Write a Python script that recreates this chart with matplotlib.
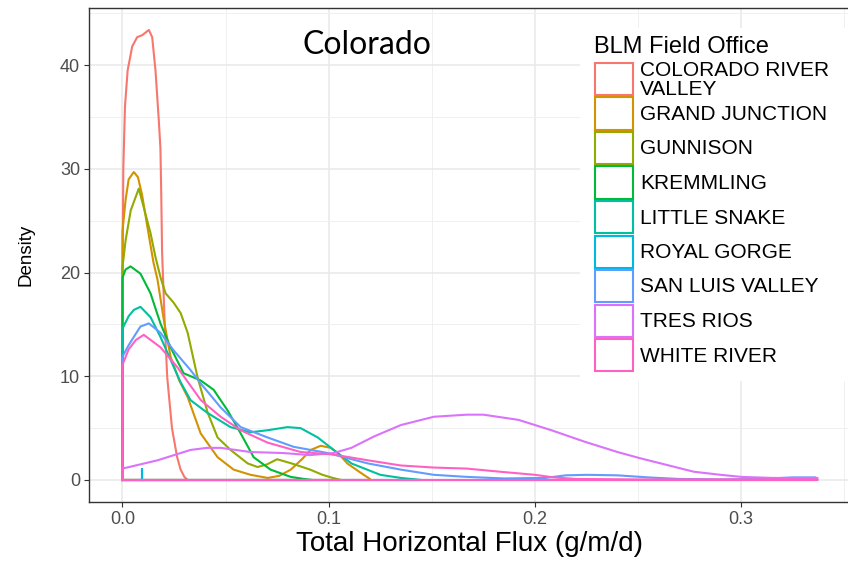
import matplotlib
matplotlib.use("Agg")
import matplotlib.pyplot as plt
from matplotlib.patches import Rectangle
from matplotlib.ticker import MultipleLocator

# Data ------------------------------------------------------------
offices = ["COLORADO RIVER\nVALLEY", "GRAND JUNCTION", "GUNNISON", "KREMMLING",
           "LITTLE SNAKE", "ROYAL GORGE", "SAN LUIS VALLEY", "TRES RIOS", "WHITE RIVER"]
colors = ["#F8766D", "#D39200", "#93AA00", "#00BA38", "#00C19F",
          "#00B9E3", "#619CFF", "#DB72FB", "#FF61C3"]

# density curves (flux, density)
crv_x = [0.0, 0.0004, 0.0012, 0.0025, 0.0047, 0.0071, 0.0096, 0.0128, 0.0144, 0.016,
         0.0176, 0.0184, 0.0188, 0.0192, 0.0205, 0.0217, 0.024, 0.0265, 0.0282, 0.030, 0.0316]
crv_y = [18.0, 30.0, 36.0, 39.5, 41.8, 42.7, 42.9, 43.4, 42.7, 39.5,
         34.7, 32.0, 27.5, 22.0, 15.0, 9.9, 5.0, 2.2, 1.0, 0.3, 0.0]

gj_x = [0.0, 0.0015, 0.003, 0.0055, 0.0075, 0.0095, 0.012, 0.015, 0.017, 0.020, 0.0233,
        0.0275, 0.0316, 0.0379, 0.0461, 0.0539, 0.0621, 0.0704, 0.076, 0.0816, 0.087,
        0.0913, 0.0961, 0.101, 0.105, 0.109, 0.1155, 0.120]
gj_y = [24.0, 27.0, 29.0, 29.7, 29.2, 27.5, 24.5, 21.0, 19.3, 15.5, 11.9,
        9.6, 8.0, 4.5, 2.2, 1.0, 0.5, 0.2, 0.4, 1.0, 2.0,
        2.9, 3.3, 3.1, 2.5, 1.6, 0.7, 0.1]

gun_x = [0.0, 0.0015, 0.004, 0.0079, 0.0103, 0.0136, 0.016, 0.0185, 0.0209, 0.0248,
         0.0282, 0.0316, 0.0345, 0.0364, 0.0413, 0.0461, 0.0524, 0.0607, 0.0655, 0.070,
         0.075, 0.082, 0.091, 0.097, 0.102, 0.106]
gun_y = [20.5, 23.1, 26.0, 28.1, 26.3, 23.8, 21.5, 19.5, 18.0, 17.1,
         16.1, 14.2, 11.6, 9.9, 6.5, 4.1, 2.9, 1.6, 1.25, 1.5,
         2.0, 1.6, 1.0, 0.5, 0.2, 0.0]

krm_x = [0.0, 0.0015, 0.0039, 0.0087, 0.0136, 0.0184, 0.0233, 0.0296, 0.0379, 0.0442,
         0.051, 0.0573, 0.0636, 0.0718, 0.0816, 0.088, 0.092]
krm_y = [19.5, 20.3, 20.6, 19.9, 18.0, 15.1, 12.8, 10.3, 9.6, 8.7,
         6.7, 4.5, 2.2, 1.0, 0.3, 0.1, 0.0]

ls_x = [0.0, 0.003, 0.0055, 0.0087, 0.0136, 0.0184, 0.0233, 0.028, 0.033, 0.041, 0.0524,
        0.062, 0.0704, 0.080, 0.0864, 0.0947, 0.1024, 0.111, 0.125, 0.135, 0.145]
ls_y = [14.6, 15.8, 16.4, 16.7, 15.7, 13.8, 11.6, 9.5, 7.7, 6.5, 5.1,
        4.6, 4.8, 5.1, 5.0, 4.1, 2.9, 1.6, 0.5, 0.2, 0.0]

rg_x = [0.0094, 0.0096]
rg_y = [1.1, 1.1]

slv_x = [0.0, 0.003, 0.0055, 0.0087, 0.0128, 0.0184, 0.0248, 0.033, 0.038, 0.0476,
         0.0573, 0.0704, 0.083, 0.0995, 0.119, 0.135, 0.151, 0.167, 0.185, 0.205,
         0.215, 0.225, 0.24, 0.255, 0.27, 0.29, 0.31, 0.325, 0.336]
slv_y = [11.9, 13.0, 13.8, 14.8, 15.1, 14.2, 12.5, 10.6, 9.3, 7.0,
         5.1, 4.1, 3.2, 2.6, 1.6, 1.0, 0.5, 0.3, 0.15, 0.2,
         0.45, 0.5, 0.45, 0.25, 0.1, 0.05, 0.1, 0.25, 0.25]

tr_x = [0.0, 0.017, 0.033, 0.041, 0.0476, 0.062, 0.078, 0.091, 0.1024, 0.111, 0.122,
        0.135, 0.151, 0.167, 0.175, 0.192, 0.208, 0.224, 0.24, 0.251, 0.265, 0.277,
        0.29, 0.30, 0.315, 0.326, 0.337]
tr_y = [1.1, 1.9, 2.9, 3.1, 3.1, 2.7, 2.6, 2.4, 2.6, 3.1, 4.2,
        5.3, 6.1, 6.3, 6.3, 5.8, 4.8, 3.7, 2.7, 2.1, 1.4, 0.8,
        0.5, 0.3, 0.2, 0.2, 0.2]

wr_x = [0.0, 0.003, 0.0065, 0.0103, 0.0184, 0.0265, 0.038, 0.0476, 0.0573, 0.0704,
        0.0864, 0.1024, 0.119, 0.135, 0.151, 0.167, 0.183, 0.20, 0.209, 0.22,
        0.25, 0.29, 0.337]
wr_y = [11.1, 12.6, 13.5, 14.0, 12.8, 10.9, 7.7, 6.1, 4.8, 3.6,
        2.7, 2.45, 1.9, 1.4, 1.2, 1.1, 0.8, 0.5, 0.25, 0.1,
        0.05, 0.05, 0.05]

curves = [(crv_x, crv_y), (gj_x, gj_y), (gun_x, gun_y), (krm_x, krm_y), (ls_x, ls_y),
          (rg_x, rg_y), (slv_x, slv_y), (tr_x, tr_y), (wr_x, wr_y)]

x_ticks = [0.0, 0.1, 0.2, 0.3]
x_ticklabels = ["0.0", "0.1", "0.2", "0.3"]
y_ticks = [0, 10, 20, 30, 40]

# Figure ----------------------------------------------------------
W, H = 848, 562
fig = plt.figure(figsize=(W / 100, H / 100), dpi=100)
plt.rcParams['font.family'] = ['Liberation Sans', 'DejaVu Sans']


def fx(px):
    return px / W


def fy(py):
    return 1 - py / H


ax = fig.add_axes([fx(89), fy(502), fx(848) - fx(89) + 0.002, fy(8) - fy(502)])
ax.set_xlim((89 - 122.5) / 2063, (850 - 122.5) / 2063)
ax.set_ylim(-(502 - 480) / 10.37, (480 - 8) / 10.37)

ax.xaxis.set_major_locator(MultipleLocator(0.1))
ax.xaxis.set_minor_locator(MultipleLocator(0.05))
ax.yaxis.set_major_locator(MultipleLocator(10))
ax.yaxis.set_minor_locator(MultipleLocator(5))
ax.set_xticks(x_ticks)
ax.set_xticklabels(x_ticklabels)
ax.set_yticks(y_ticks)
ax.grid(which="major", color="#e8e8e8", lw=1.1, zorder=0)
ax.grid(which="minor", color="#f0f0f0", lw=0.7, zorder=0)
ax.set_axisbelow(True)
ax.tick_params(which="major", length=3.5, width=0.8, color="#333333",
               labelsize=13, labelcolor="#4D4D4D", pad=3)
ax.tick_params(which="minor", length=0)
for s in ax.spines.values():
    s.set_color("#333333")
    s.set_linewidth(1.0)

# density outlines (closed along the baseline, like geom_density)
for (xs, ys), c in zip(curves, colors):
    px = [xs[0]] + list(xs) + [xs[-1], xs[0]]
    py = [0.0] + list(ys) + [0.0, 0.0]
    ax.plot(px, py, color=c, lw=1.5, solid_joinstyle="round", zorder=3)

ax.set_xlabel("Total Horizontal Flux (g/m/d)", fontsize=20, labelpad=2)
ax.set_ylabel("Density", fontsize=13.5, labelpad=18)

fig.text(fx(367), fy(45), "Colorado", fontsize=23, family="Lato",
         ha="center", va="center")

# legend drawn by hand, ggplot style
fig.add_artist(Rectangle((fx(580), fy(381)), fx(270), fy(28) - fy(381),
                         transform=fig.transFigure, facecolor="white",
                         edgecolor="none", zorder=5))
fig.text(fx(594), fy(47), "BLM Field Office", fontsize=17,
         ha="left", va="center", zorder=6)
for i, (lab, c) in enumerate(zip(offices, colors)):
    top = 63 + 34.5 * i
    fig.add_artist(Rectangle((fx(595), fy(top + 32)), fx(38), fy(top) - fy(top + 32),
                             transform=fig.transFigure, facecolor="white",
                             edgecolor=c, lw=1.5, zorder=6))
    fig.text(fx(640), fy(top + 17), lab, fontsize=15, ha="left", va="center",
             linespacing=0.95, zorder=6)

fig.savefig("out.png", dpi=100)
